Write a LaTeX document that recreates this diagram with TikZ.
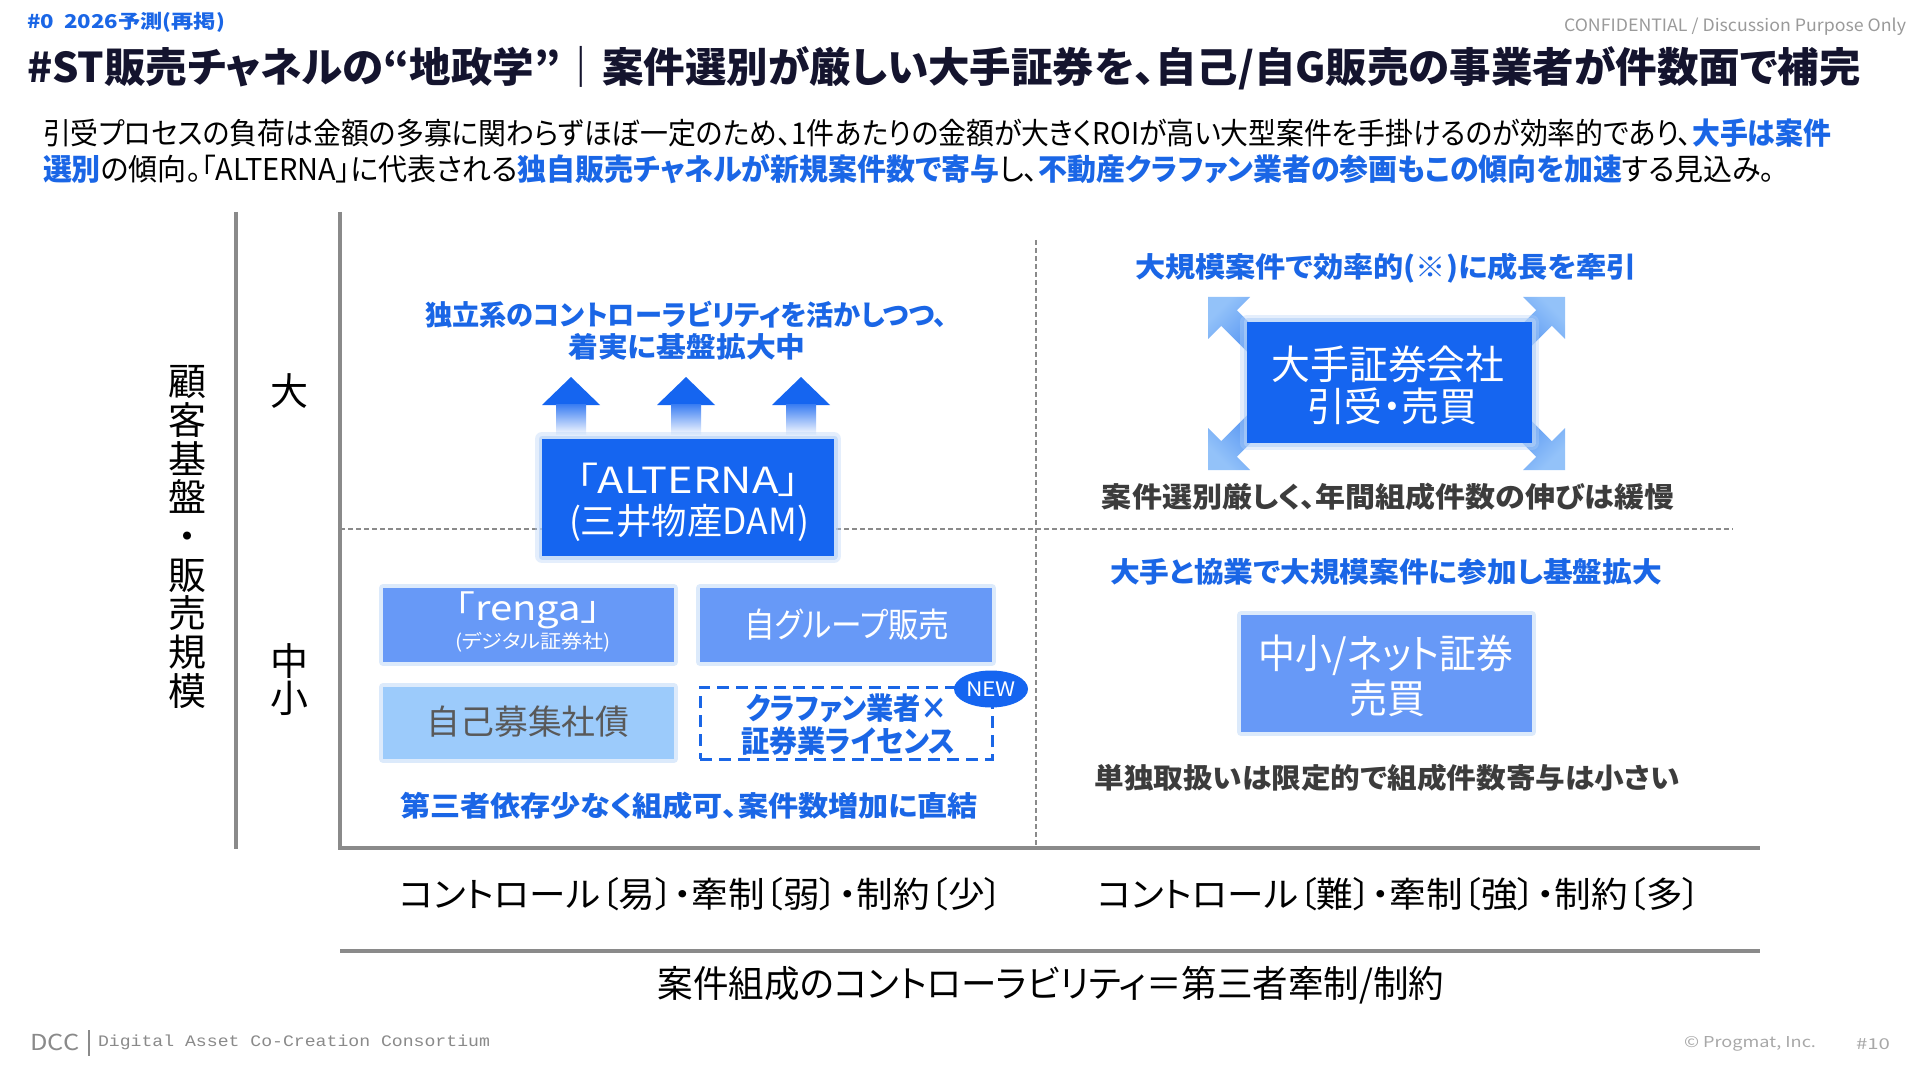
\documentclass[tikz,border=0pt]{standalone}
\usepackage{fontspec}
\usepackage{graphicx}
\setmainfont{Noto Sans CJK JP}[RawFeature=+palt]
\newfontfamily\monof{Liberation Mono}
\usetikzlibrary{shapes.geometric}
\definecolor{navy}{HTML}{14142E}
\definecolor{tblue}{HTML}{1A66E6}
\definecolor{bblue}{HTML}{1565F0}
\definecolor{mblue}{HTML}{6799F7}
\definecolor{lblue}{HTML}{9CCBFB}
\definecolor{agray}{HTML}{8A8A8A}
\definecolor{dgray}{HTML}{3C3C3C}
\definecolor{cgray}{HTML}{9A9A9A}
\definecolor{fgray}{HTML}{A8A8A8}
\definecolor{glowc}{HTML}{B3D1F8}
\definecolor{arrl}{HTML}{93C2F9}
\definecolor{arrd}{HTML}{2F78EE}
\newcommand{\fw}[2]{\resizebox{#1}{\height}{#2}}
\newcommand{\bl}[1]{{\bfseries\color{tblue}#1}}
\tikzset{
  axisline/.style={draw=agray, line width=1.8pt},
  gridline/.style={draw=agray, line width=0.7pt, dash pattern=on 2.5pt off 1.5pt},
  bigbox/.style={fill=bblue, draw=none},
  midbox/.style={fill=mblue, draw=none},
  litebox/.style={fill=lblue, draw=none},
  dashbox/.style={draw=tblue, line width=1.5pt, dash pattern=on 6pt off 3.5pt, fill=white},
  glow/.style={preaction={draw=glowc, line width=7pt, opacity=0.35, line join=round},
               preaction={draw=glowc, line width=3.5pt, opacity=0.6, line join=round}},
  softglow/.style={preaction={draw=glowc, line width=4pt, opacity=0.45, line join=round}},
  bluenote/.style={font=\bfseries\fontsize{14pt}{16pt}\selectfont, text=tblue},
  graynote/.style={font=\bfseries\fontsize{14pt}{16pt}\selectfont, text=dgray},
  boxtxt/.style={text=white, font=\fontsize{18pt}{20pt}\selectfont},
  bigtxt/.style={text=white, font=\fontsize{20pt}{22pt}\selectfont},
  axlab/.style={font=\fontsize{17.5pt}{20pt}\selectfont, text=black},
}
\begin{document}
\begin{tikzpicture}[x=0.5pt,y=-0.5pt, every node/.style={inner sep=0pt, outer sep=0pt}]
\fill[white] (0,0) rectangle (1920,1080);
\useasboundingbox (0,0) rectangle (1920,1080);

% ---------- header ----------
\node[anchor=west, font=\bfseries\fontsize{9.5pt}{11pt}\selectfont, text=tblue] (sub) at (27,22) {\fw{99pt}{\#0\ \ 2026予測(再掲)}};
\node[anchor=east, font=\fontsize{8.5pt}{10pt}\selectfont, text=cgray] (conf) at (1906,27) {\fw{171pt}{CONFIDENTIAL / Discussion Purpose Only}};
\node[anchor=west, font=\bfseries\fontsize{20.5pt}{24pt}\selectfont, text=navy] (title) at (27,68) {\fw{917pt}{\#ST販売チャネルの“地政学”｜案件選別が厳しい大手証券を、自己/自G販売の事業者が件数面で補完}};
\node[anchor=west, font=\fontsize{15pt}{18pt}\selectfont, text=black] (body1) at (43,133) {\fw{894pt}{引受プロセスの負荷は金額の多寡に関わらずほぼ一定のため、1件あたりの金額が大きくROIが高い大型案件を手掛けるのが効率的であり、\bl{大手は案件}}};
\node[anchor=west, font=\fontsize{15pt}{18pt}\selectfont, text=black] (body2) at (43,169) {\fw{866pt}{\bl{選別}の傾向。「ALTERNA」に代表される\bl{独自販売チャネルが新規案件数で寄与}し、\bl{不動産クラファン業者の参画もこの傾向を加速}する見込み。}};

% ---------- axes ----------
\coordinate (a1t) at (236,212); \coordinate (a1b) at (236,849);
\coordinate (a2t) at (340,212); \coordinate (org) at (340,848); \coordinate (a2r) at (1760,848);
\coordinate (a3l) at (340,951); \coordinate (a3r) at (1760,951);
\coordinate (gvt) at (1036,240); \coordinate (gvb) at (1036,847);
\coordinate (ghl) at (340,529); \coordinate (ghr) at (1733,529);
\draw[gridline] (gvt) -- (gvb);
\draw[gridline] (ghl) -- (ghr);
\draw[axisline] (a1t) -- (a1b);
\draw[axisline, line join=miter] (a2t) -- (org) -- (a2r);
\draw[axisline, line width=2.3pt] (a3l) -- (a3r);

\node[font=\fontsize{19pt}{19.35pt}\selectfont, align=center] (ylab) at (187,537) {顧\\客\\基\\盤\\・\\販\\売\\規\\模};
\node[font=\fontsize{19pt}{19pt}\selectfont] (big) at (289,391) {大};
\node[font=\fontsize{19pt}{18.5pt}\selectfont, align=center] (small) at (289,680) {中\\小};

% ---------- upper-left ----------
\node[bluenote] (n1a) at (686,315) {\fw{261pt}{独立系のコントローラビリティを活かしつつ、}};
\node[bluenote] (n1b) at (687,347) {\fw{118.5pt}{着実に基盤拡大中}};
\foreach \ax in {571,686,801} {
  \fill[bblue] ({\ax-29},405) -- (\ax,377) -- ({\ax+29},405) -- cycle;
  \shade[top color=bblue!85, bottom color=bblue!5] ({\ax-15},404) rectangle ({\ax+15},434);
}
\node[bigbox, glow, minimum width=146pt, minimum height=58.5pt] (alt) at (688,497.5) {};
\node[boxtxt] (alt1) at (688,480) {\fw{112pt}{「ALTERNA」}};
\node[boxtxt] (alt2) at (689,523) {\fw{120pt}{(三井物産DAM)}};

% ---------- lower-left ----------
\node[midbox, softglow, minimum width=145.5pt, minimum height=37pt] (renga) at (528.5,625) {};
\node[text=white, font=\fontsize{17pt}{19pt}\selectfont] (renga1) at (528,610) {\fw{73pt}{「renga」}};
\node[text=white, font=\fontsize{9.5pt}{11pt}\selectfont] (renga2) at (533,642) {\fw{78pt}{(デジタル証券社)}};
\node[midbox, softglow, minimum width=146pt, minimum height=37pt] (jig) at (846,625) {};
\node[text=white, font=\fontsize{17pt}{19pt}\selectfont] (jig1) at (847,625) {\fw{102.5pt}{自グループ販売}};
\node[litebox, softglow, minimum width=145.5pt, minimum height=36pt] (jiko) at (528.5,723) {};
\node[text=dgray!85, font=\fontsize{17pt}{19pt}\selectfont] (jiko1) at (528,722) {\fw{101.5pt}{自己募集社債}};
\node[dashbox, minimum width=146pt, minimum height=36pt] (kura) at (846,723) {};
\node[bluenote, font=\bfseries\fontsize{15pt}{17pt}\selectfont] (kura1) at (847,708) {\fw{101pt}{クラファン業者×}};
\node[bluenote, font=\bfseries\fontsize{15pt}{17pt}\selectfont] (kura2) at (848,741) {\fw{107pt}{証券業ライセンス}};
\node[ellipse, fill=bblue, minimum width=37pt, minimum height=18.5pt, text=white, font=\fontsize{10pt}{11pt}\selectfont] (new) at (991,689) {\fw{25pt}{NEW}};
\node[bluenote] (n2) at (689,806) {\fw{289pt}{第三者依存少なく組成可、案件数増加に直結}};

% ---------- upper-right ----------
\node[bluenote] (n3) at (1386,268) {\fw{251pt}{大規模案件で効率的(※)に成長を牽引}};
\foreach \tx/\ty/\sx/\sy/\ang in {1208/297/1/1/45, 1565/297/-1/1/-45, 1208/470/1/-1/135, 1565/470/-1/-1/-135}{
  \shade[top color=arrl, bottom color=arrd, shading angle=\ang]
    (\tx,\ty) -- ({\tx+\sx*42},\ty) -- ({\tx+\sx*28.8},{\ty+\sy*13.2})
    -- ({\tx+\sx*78.8},{\ty+\sy*63.2}) -- ({\tx+\sx*63.2},{\ty+\sy*78.8})
    -- ({\tx+\sx*13.2},{\ty+\sy*28.8}) -- (\tx,{\ty+\sy*42}) -- cycle;
}
\node[bigbox, glow, minimum width=142.5pt, minimum height=60.5pt] (oote) at (1389.5,382.5) {};
\node[bigtxt] (oote1) at (1388,364) {\fw{116.5pt}{大手証券会社}};
\node[bigtxt] (oote2) at (1392,406) {\fw{85pt}{引受・売買}};
\node[graynote] (n4) at (1388,497) {\fw{286pt}{案件選別厳しく、年間組成件数の伸びは緩慢}};

% ---------- lower-right ----------
\node[bluenote] (n5) at (1386,572) {\fw{276pt}{大手と協業で大規模案件に参加し基盤拡大}};
\node[midbox, softglow, minimum width=145.5pt, minimum height=58.5pt] (chu) at (1386.5,673.5) {};
\node[bigtxt] (chu1) at (1386,655) {\fw{127.5pt}{中小/ネット証券}};
\node[bigtxt] (chu2) at (1387,698) {\fw{38pt}{売買}};
\node[graynote] (n6) at (1387,778) {\fw{292.5pt}{単独取扱いは限定的で組成件数寄与は小さい}};

% ---------- bottom axis labels ----------
\node[axlab] (xl1) at (701,894) {\fw{302pt}{コントロール〔易〕・牽制〔弱〕・制約〔少〕}};
\node[axlab] (xl2) at (1399,894) {\fw{302pt}{コントロール〔難〕・牽制〔強〕・制約〔多〕}};
\node[font=\fontsize{18.5pt}{21pt}\selectfont] (xlab) at (1051,985) {\fw{393pt}{案件組成のコントローラビリティ＝第三者牽制/制約}};

% ---------- footer ----------
\node[text=agray, font=\fontsize{11pt}{12pt}\selectfont] (dcc) at (55,1042) {\fw{24.5pt}{DCC}};
\coordinate (bart) at (89,1030); \coordinate (barb) at (89,1056);
\draw[agray, line width=0.8pt] (bart) -- (barb);
\node[anchor=west, text=agray, font=\monof\fontsize{8pt}{9pt}\selectfont] (dccname) at (98,1042) {\fw{196pt}{Digital Asset Co-Creation Consortium}};
\node[text=fgray, font=\fontsize{7.5pt}{9pt}\selectfont] (copy) at (1750,1044) {\fw{66pt}{© Progmat, Inc.}};
\node[text=fgray, font=\fontsize{7.5pt}{9pt}\selectfont] (page) at (1873,1044) {\fw{17pt}{\#10}};
\end{tikzpicture}
\end{document}
